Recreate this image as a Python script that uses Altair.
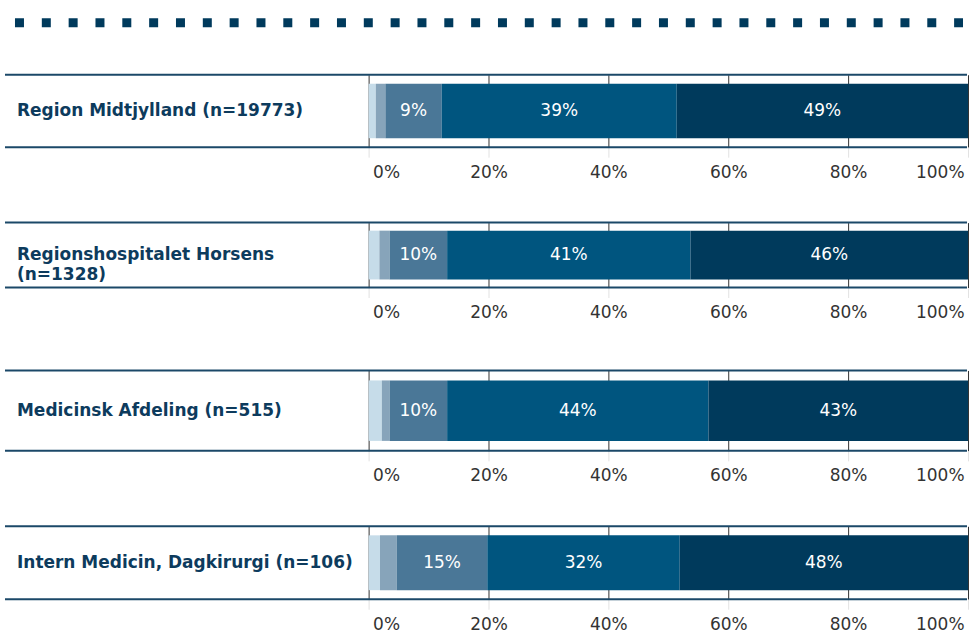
import altair as alt
import pandas as pd

# ---- data -------------------------------------------------------------
groups = [
    "Region Midtjylland (n=19773)",
    "Regionshospitalet Horsens\n(n=1328)",
    "Medicinsk Afdeling (n=515)",
    "Intern Medicin, Dagkirurgi (n=106)",
]
segments = ["s1", "s2", "s3", "s4", "s5"]
values_p1 = [1.2, 1.6, 9.4, 39.2, 48.6]
values_p2 = [1.8, 1.7, 9.6, 40.6, 46.3]
values_p3 = [2.2, 1.3, 9.6, 43.6, 43.3]
values_p4 = [1.9, 2.8, 15.1, 32.1, 48.1]
all_values = [values_p1, values_p2, values_p3, values_p4]
tick_values = [0, 20, 40, 60, 80, 100]

colors = ["#c6dce9", "#87a4ba", "#4a7797", "#00557f", "#003a5c"]
NAVY = "#0d3b5d"
LINE = "#1b4868"
FONT = "DejaVu Sans"

heights = [72.5, 65, 80.5, 73]
min_extents = [0, 40.5, 0, 0]


def panel_df(group, vals):
    rows = []
    start = 0.0
    for seg, v in zip(segments, vals):
        rows.append({"group": group, "seg": seg, "value": v,
                     "start": start, "end": start + v, "mid": start + v / 2})
        start += v
    return pd.DataFrame(rows)


def make_panel(idx):
    group = groups[idx]
    H = heights[idx]
    df = panel_df(group, all_values[idx])
    one = pd.DataFrame({"group": [group]})

    yenc = alt.Y("group:N", axis=None,
                 scale=alt.Scale(paddingInner=0, paddingOuter=0.165))

    axis_kwargs = dict(
        values=tick_values, labelExpr="datum.value + '%'", title=None,
        grid=True, gridColor="#333333", gridWidth=1,
        domain=False, ticks=True, tickColor="#e2e2e2", tickSize=10,
        labelFont=FONT, labelFontSize=17, labelColor="#333333",
        labelBaseline="middle", labelPadding=15,
        labelFlush=True, labelFlushOffset=-4,
    )
    if min_extents[idx]:
        axis_kwargs["minExtent"] = min_extents[idx]

    xscale = alt.Scale(domain=[0, 100], nice=False)

    bars = alt.Chart(df).mark_bar().encode(
        x=alt.X("start:Q", scale=xscale, axis=alt.Axis(**axis_kwargs)),
        x2="end:Q",
        y=yenc,
        color=alt.Color("seg:N", scale=alt.Scale(domain=segments, range=colors),
                        legend=None),
    )
    labels = alt.Chart(df).transform_filter("datum.value >= 5").transform_calculate(
        lbl="format(datum.value, '.0f') + '%'"
    ).mark_text(color="white", font=FONT, fontSize=17).encode(
        x=alt.X("mid:Q", scale=xscale),
        y=yenc,
        text="lbl:N",
    )
    top_line = alt.Chart(one).mark_rule(color=LINE, strokeWidth=2).encode(
        x=alt.value(-364), x2=alt.value(599), y=alt.value(0))
    bottom_line = alt.Chart(one).mark_rule(color=LINE, strokeWidth=2).encode(
        x=alt.value(-364), x2=alt.value(599), y=alt.value(H))
    cat = alt.Chart(one).mark_text(
        align="left", baseline="middle", font=FONT, fontSize=17,
        fontWeight="bold", color=NAVY, lineBreak="\n", lineHeight=20,
    ).encode(x=alt.value(-352), y=yenc, text="group:N")

    layers = [bars, labels, top_line, bottom_line, cat]
    if idx == 0:
        dots = alt.Chart(one).mark_rule(
            color="#003a5c", strokeWidth=9, strokeDash=[9, 17.86], strokeCap="butt"
        ).encode(x=alt.value(-354), x2=alt.value(595), y=alt.value(-52))
        layers.append(dots)
    return alt.layer(*layers).properties(width=600, height=H)


chart = alt.vconcat(*[make_panel(i) for i in range(4)], spacing=41).properties(
    padding={"left": 4, "top": 17.5, "right": 0, "bottom": 0}
).configure_view(stroke=None)

chart.save("out.html", embed_options={"renderer": "svg", "actions": False})
